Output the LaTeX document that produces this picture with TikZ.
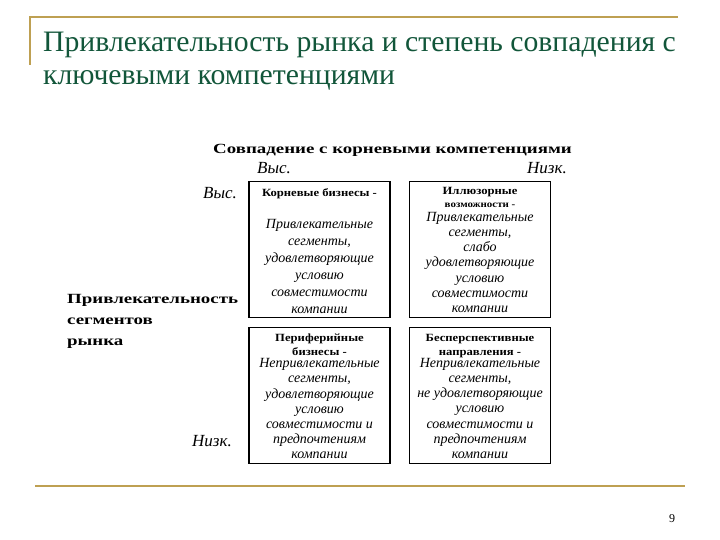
\documentclass[tikz,border=0pt]{standalone}
\usepackage{fontspec}
\setmainfont{Liberation Serif}
\newfontfamily\wideserif[FakeStretch=1.35]{Liberation Serif}
\newfontfamily\headserif[FakeStretch=1.15]{Liberation Serif}
\usetikzlibrary{positioning}
\definecolor{titlegreen}{RGB}{18,86,58}
\definecolor{rulegold}{RGB}{190,160,82}
\newcommand{\headfont}{\headserif\upshape\bfseries\fontsize{11}{13}\selectfont}

\begin{document}
\begin{tikzpicture}[
  x=1pt, y=-1pt,
  every node/.style={inner sep=0pt},
  titletext/.style={anchor=base west, text=titlegreen, font=\fontsize{29.7}{33}\selectfont},
  axistitle/.style={anchor=base west, font=\wideserif\bfseries\fontsize{14}{21}\selectfont},
  level/.style={anchor=base west, font=\itshape\fontsize{17}{20}\selectfont},
  cell/.style={draw, line width=1.3pt, minimum width=141pt, minimum height=136pt},
  celltext/.style={align=center, anchor=north, font=\itshape\fontsize{14}{17}\selectfont},
  rule/.style={draw=rulegold, line width=1.6pt}
]
  \useasboundingbox (0,0) rectangle (720,540);

  % Slide frame
  \coordinate (framecorner) at (30,17);
  \coordinate (frameend) at (678,17);
  \coordinate (framedown) at (30,65);
  \coordinate (footleft) at (35,486);
  \coordinate (footright) at (685,486);
  \draw[rule] (framedown) -- (framecorner) -- (frameend);
  \draw[rule] (footleft) -- (footright);

  % Title
  \node[titletext] (title1) at (43,52) {Привлекательность рынка и степень совпадения с};
  \node[titletext] (title2) at (43,85) {ключевыми компетенциями};

  % Axis titles
  \node[axistitle] (toptitle) at (213,154) {Совпадение с корневыми компетенциями};
  \node[axistitle, align=left, anchor=north west] (lefttitle) at (67,294)
    {Привлекательность\\сегментов\\рынка};

  % Levels
  \node[level] (tophigh) at (257,174) {Выс.};
  \node[level] (toplow) at (527,174) {Низк.};
  \node[level] (lefthigh) at (203,199) {Выс.};
  \node[level] (leftlow) at (192,446) {Низк.};

  % Matrix cells
  \node[cell] (corecell) at (319.5,249.5) {};
  \node[cell] (illusioncell) at (480,249.5) {};
  \node[cell] (periphcell) at (319.5,395.5) {};
  \node[cell] (deadcell) at (480,395.5) {};

  % Cell texts
  \node[celltext, below=8pt of corecell.north] (coretext)
    {{\headfont Корневые бизнесы -}\\[15pt]
     Привлекательные\\сегменты,\\удовлетворяющие\\условию\\совместимости\\компании};
  \node[celltext, below=6pt of illusioncell.north, font=\itshape\fontsize{14}{15.2}\selectfont] (illusiontext)
    {{\headfont Иллюзорные}\\[-2.2pt]
     {\headfont\fontsize{9.5}{12}\selectfont возможности -}\\[-1.2pt]
     Привлекательные\\сегменты,\\слабо\\удовлетворяющие\\условию\\совместимости\\компании};
  \node[celltext, below=7pt of periphcell.north, font=\itshape\fontsize{14}{15.2}\selectfont] (periphtext)
    {{\headfont Периферийные}\\[-1.2pt]
     {\headfont бизнесы -}\\[-3.2pt]
     Непривлекательные\\сегменты,\\удовлетворяющие\\условию\\совместимости и\\предпочтениям\\компании};
  \node[celltext, below=7pt of deadcell.north, font=\itshape\fontsize{14}{15.2}\selectfont] (deadtext)
    {{\headfont Бесперспективные}\\[-1.2pt]
     {\headfont направления -}\\[-3.2pt]
     Непривлекательные\\сегменты,\\не удовлетворяющие\\условию\\совместимости и\\предпочтениям\\компании};

  % Page number
  \node[anchor=base west, font=\fontsize{12}{14}\selectfont] (pagenum) at (669,522) {9};
\end{tikzpicture}
\end{document}
